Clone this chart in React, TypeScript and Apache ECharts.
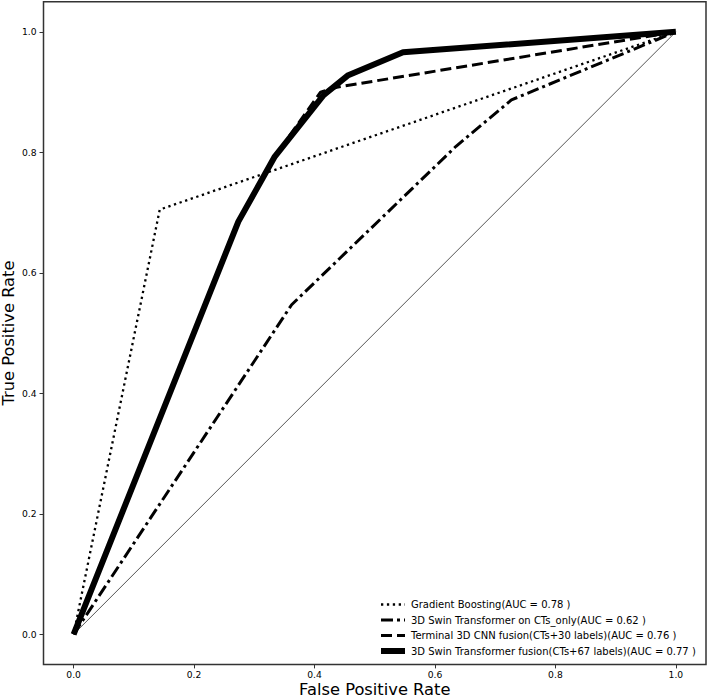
import React, { useEffect, useRef } from "react";
import * as echarts from "echarts";

// ROC curve data
const gbFpr = [0, 0.143, 1];
const gbTpr = [0, 0.705, 1];

const swinCtFpr = [0, 0.362, 0.635, 0.727, 1];
const swinCtTpr = [0, 0.547, 0.81, 0.887, 1];

const cnnFusionFpr = [0, 0.27, 0.33, 0.41, 0.437, 1];
const cnnFusionTpr = [0, 0.68, 0.787, 0.9, 0.908, 1];

const swinFusionFpr = [0, 0.2735, 0.334, 0.415, 0.456, 0.547, 1];
const swinFusionTpr = [0, 0.685, 0.793, 0.895, 0.928, 0.966, 1];

const chanceFpr = [0, 1];
const chanceTpr = [0, 1];

const seriesNames = [
  "Gradient Boosting(AUC = 0.78 )",
  "3D Swin Transformer on CTs_only(AUC = 0.62 )",
  "Terminal 3D CNN fusion(CTs+30 labels)(AUC = 0.76 )",
  "3D Swin Transformer fusion(CTs+67 labels)(AUC = 0.77 )",
];

const tickValues = [0, 0.2, 0.4, 0.6, 0.8, 1.0];

const FONT = "DejaVu Sans";

const pairs = (xs: number[], ys: number[]) => xs.map((x, i) => [x, ys[i]]);

const lineStyles = [
  { color: "#000", width: 2.3, type: [2.3, 3.6], cap: "butt" },
  { color: "#000", width: 3, type: [12, 4, 3, 4], cap: "butt" },
  { color: "#000", width: 3, type: [11, 5], cap: "butt" },
  { color: "#000", width: 6, type: "solid", cap: "butt" },
];

export default function App() {
  const ref = useRef<HTMLDivElement>(null);
  useEffect(() => {
    if (!ref.current) return;
    const chart = echarts.init(ref.current, undefined, { renderer: "svg" });
    const dataSets = [
      pairs(gbFpr, gbTpr),
      pairs(swinCtFpr, swinCtTpr),
      pairs(cnnFusionFpr, cnnFusionTpr),
      pairs(swinFusionFpr, swinFusionTpr),
    ];
    const axisCommon = {
      type: "value" as const,
      min: -0.05,
      max: 1.05,
      splitLine: { show: false },
      axisLine: { show: false, onZero: false },
      axisTick: {
        show: true,
        length: 4,
        inside: false,
        customValues: tickValues,
        lineStyle: { color: "#333", width: 1 },
      },
      axisLabel: {
        customValues: tickValues,
        formatter: (v: number) => v.toFixed(1),
        color: "#000",
        fontFamily: FONT,
        fontSize: 9.2,
      },
      nameLocation: "middle" as const,
      nameMoveOverlap: false,
      nameTextStyle: { fontFamily: FONT, fontSize: 16.3, color: "#000" },
    };
    chart.setOption({
      animation: false,
      backgroundColor: "#fff",
      grid: {
        left: 43.5,
        right: 2,
        top: 1.7,
        bottom: 34.6,
        show: true,
        borderColor: "#333",
        borderWidth: 1.5,
        backgroundColor: "transparent",
        containLabel: false,
        outerBoundsMode: "none",
      },
      xAxis: {
        ...axisCommon,
        name: "False Positive Rate",
        nameGap: 17.5,
        axisLabel: { ...axisCommon.axisLabel, margin: 6 },
      },
      yAxis: {
        ...axisCommon,
        name: "True Positive Rate",
        nameGap: 27.5,
        axisLabel: { ...axisCommon.axisLabel, margin: 7 },
      },
      legend: {
        orient: "vertical",
        left: 378,
        top: 598.5,
        padding: 0,
        itemWidth: 24,
        itemHeight: 12,
        itemGap: 3.5,
        textStyle: {
          fontFamily: FONT,
          fontSize: 10,
          color: "#000",
          lineHeight: 12,
          padding: [0, 0, 0, 1],
        },
        data: seriesNames.map((name, i) => ({
          name,
          lineStyle: { ...lineStyles[i] },
          itemStyle: { color: "rgba(0,0,0,0)", opacity: 0, borderWidth: 0 },
        })),
      },
      series: [
        {
          type: "line",
          name: "chance",
          data: pairs(chanceFpr, chanceTpr),
          symbol: "none",
          lineStyle: { color: "#555", width: 1 },
          z: 1,
          silent: true,
        },
        ...seriesNames.map((name, i) => ({
          type: "line",
          name,
          data: dataSets[i],
          symbol: "none",
          showSymbol: false,
          lineStyle: lineStyles[i],
          itemStyle: { color: "#000" },
          z: 2 + i,
        })),
      ],
    });
    return () => chart.dispose();
  }, []);
  return (
    <div
      ref={ref}
      style={{ position: "fixed", left: 0, top: 0, width: 708, height: 699 }}
    />
  );
}
